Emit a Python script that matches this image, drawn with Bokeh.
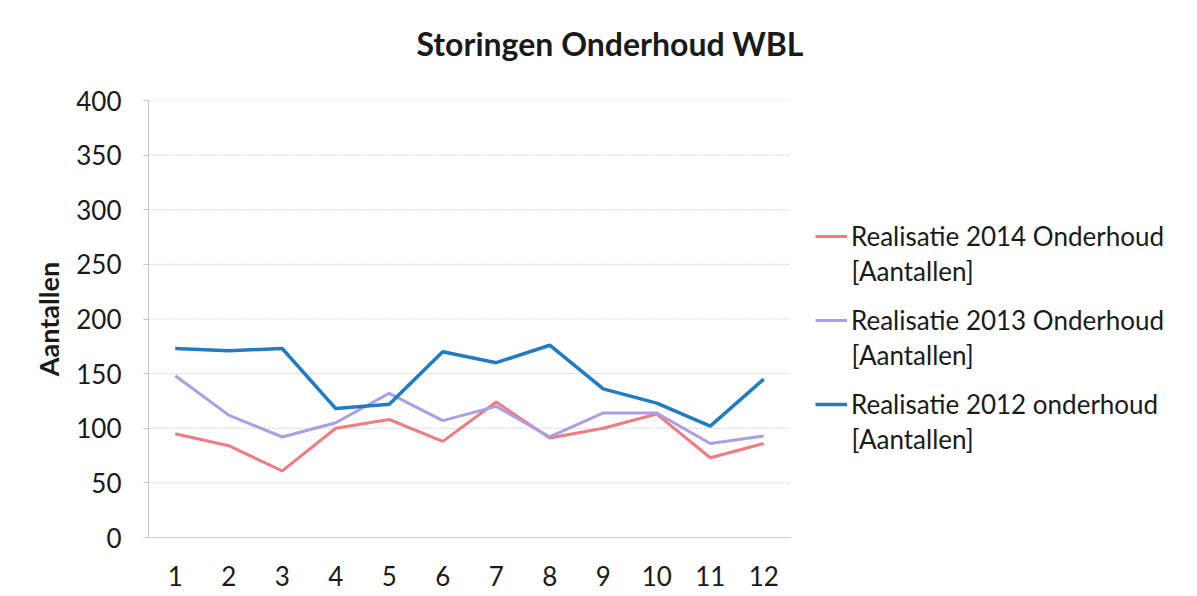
from bokeh.plotting import figure
from bokeh.models import Range1d, Legend, LegendItem, FixedTicker, Label, Title
from bokeh.embed import file_html
from bokeh.resources import INLINE

# ---- data ----
months = [1, 2, 3, 4, 5, 6, 7, 8, 9, 10, 11, 12]
real_2014 = [95, 84, 61, 100, 108, 88, 124, 91, 100, 113, 73, 86]
real_2013 = [148, 112, 92, 105, 132, 107, 120, 92, 114, 114, 86, 93]
real_2012 = [173, 171, 173, 118, 122, 170, 160, 176, 136, 123, 102, 145]
y_ticks = [0, 50, 100, 150, 200, 250, 300, 350, 400]
series_names = ["Realisatie 2014 Onderhoud", "Realisatie 2013 Onderhoud", "Realisatie 2012 onderhoud"]
unit_text = "[Aantallen]"
title_text = "Storingen  Onderhoud WBL"

FONT = "Lato"
TXT = "#1a1a1a"
colors = ["#f07b80", "#ab9ee6", "#1f7bc4"]
widths = [3, 3, 3.5]

# ---- layout (pixels) ----
W, H = 1181, 596
LEFT, BOTTOM = 148, 59
PLOT_TOP = 100                    # top of the plotting area (y = 400)
PLOT_W = 642                      # width of the plotting area
PLOT_H = H - BOTTOM - PLOT_TOP    # 437
x_lo, x_hi = months[0] - 0.5, months[-1] + 0.5
y_lo, y_hi = y_ticks[0], y_ticks[-1]
# the frame is widened to the right so the legend (drawn inside the frame)
# is never clipped
x_end = x_lo + (x_hi - x_lo) * (W - LEFT) / PLOT_W


def px_x(px):
    return x_lo + (px - LEFT) * (x_hi - x_lo) / PLOT_W


def px_y(py):
    return y_lo + (H - BOTTOM - py) * (y_hi - y_lo) / PLOT_H


p = figure(width=W, height=H,
           x_range=Range1d(x_lo, x_end), y_range=Range1d(y_lo, y_hi),
           output_backend="svg", toolbar_location=None,
           min_border_left=LEFT, min_border_right=0,
           min_border_top=PLOT_TOP, min_border_bottom=BOTTOM)
p.outline_line_color = None
p.background_fill_color = "white"
p.border_fill_color = "white"

# title: a thin spacer panel next to the frame, then the title itself
p.add_layout(Title(text=" ", text_font_size="1px", standoff=25), "above")
p.add_layout(Title(text=title_text, align="left", offset=268, standoff=20,
                   text_font=FONT, text_font_size="32px", text_font_style="bold",
                   text_color=TXT), "above")

# horizontal gridlines limited to the plotting area
p.xgrid.visible = False
p.ygrid.visible = False
p.segment(x0=[x_lo] * len(y_ticks), y0=y_ticks, x1=[x_hi] * len(y_ticks), y1=y_ticks,
          line_color="#cdd6e6", line_dash="2 1", line_width=1)

p.yaxis.ticker = FixedTicker(ticks=y_ticks)
p.xaxis.ticker = FixedTicker(ticks=months)
p.xaxis.bounds = (x_lo, x_hi)
for ax in (p.xaxis[0], p.yaxis[0]):
    ax.axis_line_color = "#c8c8c8"
    ax.major_tick_line_color = "#c8c8c8"
    ax.minor_tick_line_color = None
    ax.major_label_text_font = FONT
    ax.major_label_text_font_size = "26px"
    ax.major_label_text_color = TXT
p.yaxis.major_tick_out = 5
p.yaxis.major_tick_in = 0
p.yaxis.major_label_standoff = 22
p.xaxis.major_tick_out = 0
p.xaxis.major_tick_in = 0
p.xaxis.major_label_standoff = 28

p.yaxis.axis_label = "Aantallen"
p.yaxis.axis_label_text_font = FONT
p.yaxis.axis_label_text_font_style = "bold"
p.yaxis.axis_label_text_font_size = "27px"
p.yaxis.axis_label_text_color = TXT
p.yaxis.axis_label_standoff = 8

renderers = []
for vals, col, lw in zip([real_2014, real_2013, real_2012], colors, widths):
    renderers.append(p.line(months, vals, line_color=col, line_width=lw))

# legend: one single-entry legend per series, with the unit on a second line
LEG_X = 815          # left edge of legend glyph (px)
GLYPH_W, STANDOFF, ITEM_H = 32, 4, 34
first_row, row_step = 236, 84
for i, (name, r) in enumerate(zip(series_names, renderers)):
    row = first_row + row_step * i
    lg = Legend(items=[LegendItem(label=name, renderers=[r])],
                location=(LEG_X - LEFT, (H - BOTTOM) - (row + ITEM_H / 2)),
                padding=0, margin=0, spacing=0,
                glyph_width=GLYPH_W, glyph_height=ITEM_H, label_height=ITEM_H,
                label_standoff=STANDOFF,
                border_line_color=None, background_fill_alpha=0,
                label_text_font=FONT, label_text_font_size="26px",
                label_text_color=TXT)
    p.add_layout(lg)
    p.add_layout(Label(x=px_x(LEG_X + GLYPH_W + STANDOFF), y=px_y(row + 34),
                       text=unit_text, text_font=FONT, text_font_size="26px",
                       text_color=TXT, text_align="left", text_baseline="middle"))

open("out.html", "w").write(file_html(p, INLINE))
